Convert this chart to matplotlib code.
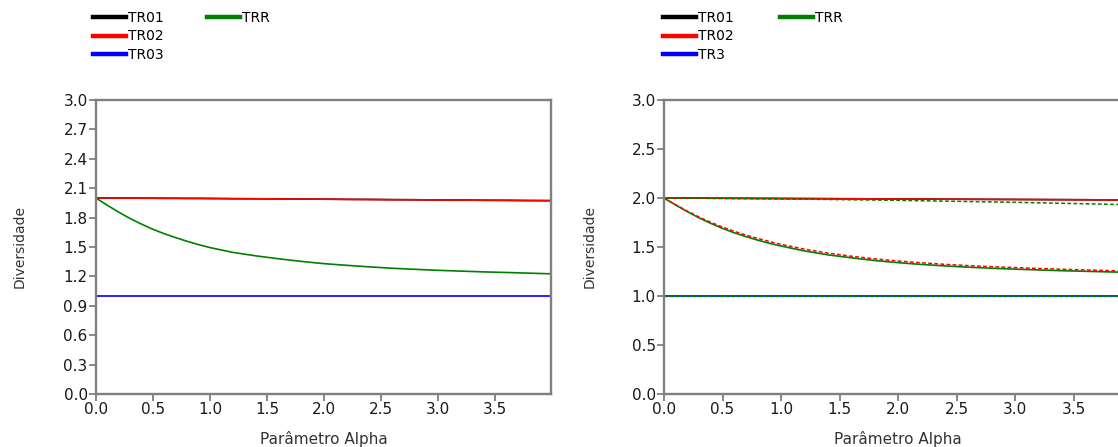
import matplotlib
matplotlib.use('Agg')
import matplotlib.pyplot as plt
from matplotlib.lines import Line2D

# parametro alpha (eixo x), passo mais fino no inicio da curva
alpha = [0.0, 0.1, 0.2, 0.3, 0.4, 0.5, 0.6, 0.7, 0.8, 0.9, 1.0,
         1.2, 1.4, 1.6, 1.8, 2.0, 2.2, 2.4, 2.6, 2.8, 3.0, 3.2, 3.4, 3.6, 3.8, 4.0]

# painel esquerdo
left_tr01 = [2.000, 2.000, 1.999, 1.999, 1.998, 1.998, 1.997, 1.997, 1.996, 1.996, 1.995,
             1.993, 1.992, 1.991, 1.989, 1.988, 1.986, 1.985, 1.983, 1.982, 1.980,
             1.979, 1.977, 1.976, 1.974, 1.973]
left_tr02 = [2.000, 2.000, 1.999, 1.999, 1.998, 1.998, 1.997, 1.997, 1.996, 1.996, 1.995,
             1.993, 1.992, 1.991, 1.989, 1.988, 1.986, 1.985, 1.983, 1.982, 1.980,
             1.979, 1.977, 1.976, 1.974, 1.973]
left_tr03 = [1.0] * 26
left_trr = [2.000, 1.925, 1.855, 1.790, 1.733, 1.680, 1.635, 1.595, 1.558, 1.524, 1.494,
            1.445, 1.410, 1.380, 1.353, 1.330, 1.313, 1.297, 1.283, 1.272, 1.262,
            1.254, 1.246, 1.240, 1.233, 1.226]

# painel direito
right_tr01 = [2.000, 2.000, 1.999, 1.999, 1.998, 1.998, 1.997, 1.997, 1.996, 1.996, 1.995,
              1.994, 1.993, 1.992, 1.991, 1.990, 1.989, 1.988, 1.987, 1.986, 1.985,
              1.984, 1.983, 1.982, 1.981, 1.980]
right_tr02 = [2.000, 2.000, 1.999, 1.999, 1.998, 1.998, 1.997, 1.997, 1.996, 1.996, 1.995,
              1.994, 1.993, 1.992, 1.991, 1.990, 1.989, 1.988, 1.987, 1.986, 1.985,
              1.984, 1.983, 1.982, 1.981, 1.980]
right_tr3 = [1.0] * 26
right_trr = [2.000, 1.928, 1.860, 1.797, 1.741, 1.690, 1.645, 1.606, 1.570, 1.538, 1.510,
             1.460, 1.420, 1.390, 1.362, 1.340, 1.322, 1.307, 1.294, 1.283, 1.274,
             1.266, 1.258, 1.252, 1.246, 1.240]
# curvas tracejadas (sem legenda)
right_trr_est = [2.000, 1.931, 1.866, 1.805, 1.752, 1.703, 1.660, 1.622, 1.587, 1.556, 1.527,
                 1.478, 1.438, 1.406, 1.379, 1.357, 1.339, 1.323, 1.310, 1.299, 1.290,
                 1.281, 1.273, 1.266, 1.259, 1.252]
right_top_est = [2.000, 1.999, 1.998, 1.997, 1.996, 1.995, 1.994, 1.993, 1.992, 1.991, 1.990,
                 1.988, 1.985, 1.982, 1.979, 1.976, 1.972, 1.968, 1.964, 1.960, 1.956,
                 1.951, 1.946, 1.941, 1.936, 1.931]
right_low_est = [1.0] * 26

W, H = 1118, 447
SPINE = '#808080'

plt.rcParams['font.family'] = ['DejaVu Sans']


def px(x, y):
    return x / W, 1 - y / H


def style_axes(ax, yticks, label_x):
    ax.set_xlim(0, 3.99)
    ax.set_ylim(0, 3.0)
    ax.set_xticks([0.0, 0.5, 1.0, 1.5, 2.0, 2.5, 3.0, 3.5])
    ax.set_xticklabels(['0.0', '0.5', '1.0', '1.5', '2.0', '2.5', '3.0', '3.5'])
    ax.set_yticks(yticks)
    ax.set_yticklabels(['%.1f' % v for v in yticks])
    for s in ax.spines.values():
        s.set_color(SPINE)
        s.set_linewidth(1.7)
    ax.tick_params(axis='both', direction='out', length=5, width=1.3, color=SPINE,
                   labelsize=11, labelcolor='#1a1a1a', pad=1)
    ax.set_xlabel('Parâmetro Alpha', fontsize=11, color='#333333')
    ax.set_ylabel('Diversidade', fontsize=10, color='#333333')
    ax.xaxis.set_label_coords(0.5, -0.125)
    ax.yaxis.set_label_coords(label_x, 0.5)


def add_legends(fig, x0, x1, names, colors):
    handles = [Line2D([], [], color=c, lw=3.2) for c in colors]
    kw = dict(frameon=False, fontsize=10, handlelength=2.4, handletextpad=0.15,
              labelspacing=0.32, borderpad=0, borderaxespad=0, loc='upper left')
    fig.legend(handles[:3], names[:3], bbox_to_anchor=px(x0, 11), **kw)
    fig.legend(handles[3:], names[3:], bbox_to_anchor=px(x1, 11), **kw)


fig = plt.figure(figsize=(W / 100, H / 100), dpi=100)

# ---- painel esquerdo ----
ax1 = fig.add_axes([96 / W, 1 - 394 / H, 455 / W, 294 / H])
ax1.plot(alpha, left_tr01, color='black', lw=1.2)
ax1.plot(alpha, left_tr02, color='red', lw=1.2)
ax1.plot(alpha, left_tr03, color='blue', lw=1.2)
ax1.plot(alpha, left_trr, color='green', lw=1.2)
style_axes(ax1, [0.0, 0.3, 0.6, 0.9, 1.2, 1.5, 1.8, 2.1, 2.4, 2.7, 3.0], -0.152)
add_legends(fig, 93, 207, ['TR01', 'TR02', 'TR03', 'TRR'],
            ['black', 'red', 'blue', 'green'])

# ---- painel direito ----
ax2 = fig.add_axes([664 / W, 1 - 394 / H, 467 / W, 294 / H])
ax2.plot(alpha, right_tr01, color='black', lw=1.2)
ax2.plot(alpha, right_tr02, color='red', lw=1.2)
ax2.plot(alpha, right_tr3, color='blue', lw=1.2)
ax2.plot(alpha, right_trr, color='green', lw=1.2)
ax2.plot(alpha, right_trr_est, color='red', lw=1.1, ls=(0, (2.5, 1.5)))
ax2.plot(alpha, right_top_est, color='green', lw=1.1, ls=(0, (2.5, 1.5)))
ax2.plot(alpha, right_low_est, color='green', lw=1.0, ls=(0, (2.5, 1.5)))
style_axes(ax2, [0.0, 0.5, 1.0, 1.5, 2.0, 2.5, 3.0], -0.144)
add_legends(fig, 663, 780, ['TR01', 'TR02', 'TR3', 'TRR'],
            ['black', 'red', 'blue', 'green'])

fig.savefig('out.png', dpi=100)
